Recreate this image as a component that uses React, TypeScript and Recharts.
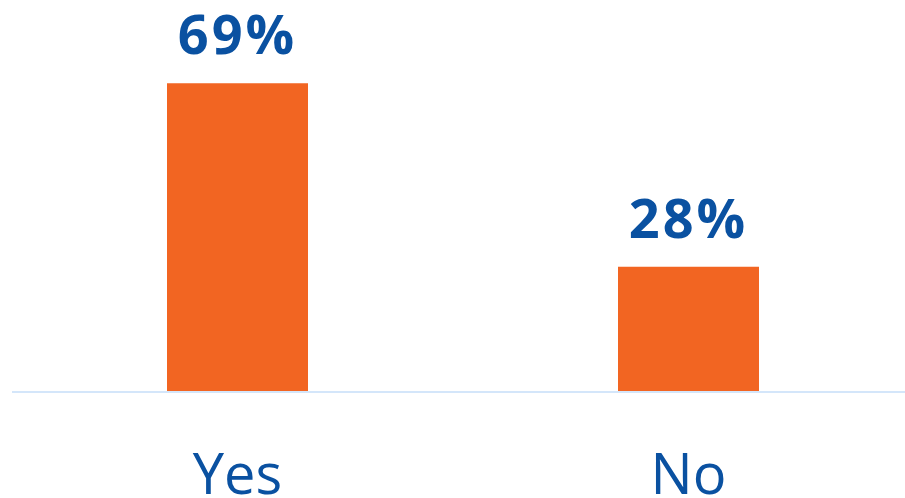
import React from "react";
import { BarChart, Bar, XAxis, YAxis, LabelList } from "recharts";

const categories = ["Yes", "No"];
const values = [69, 28];
const data = categories.map((name, i) => ({ name, value: values[i] }));

const BLUE = "#0a51a1";
const ORANGE = "#f26522";

const Tick = (props: any) => {
  const { x, y, payload } = props;
  return (
    <text x={x} y={y} dy={94} textAnchor="middle" fill={BLUE} fontSize={56} fontFamily="'Open Sans', sans-serif">
      {payload.value}
    </text>
  );
};

export default function App() {
  return (
    <div style={{ position: "absolute", left: 0, top: 0, width: 905, height: 498, overflow: "hidden", background: "#fff" }}>
      <BarChart width={914} height={498} data={data} margin={{ top: 34, right: 0, left: 12, bottom: 0 }}>
        <XAxis
          dataKey="name"
          height={106}
          axisLine={{ stroke: "#d4e6fa", strokeWidth: 2 }}
          tickLine={false}
          tick={<Tick />}
          interval={0}
        />
        <YAxis hide domain={[0, 80]} />
        <Bar dataKey="value" fill={ORANGE} barSize={141} isAnimationActive={false}>
          <LabelList
            dataKey="value"
            position="top"
            offset={29}
            formatter={(v: any) => `${v}%`}
            fill={BLUE}
            fontSize={54}
            fontWeight={700}
            letterSpacing={3}
            fontFamily="'Open Sans', sans-serif"
          />
        </Bar>
      </BarChart>
    </div>
  );
}
